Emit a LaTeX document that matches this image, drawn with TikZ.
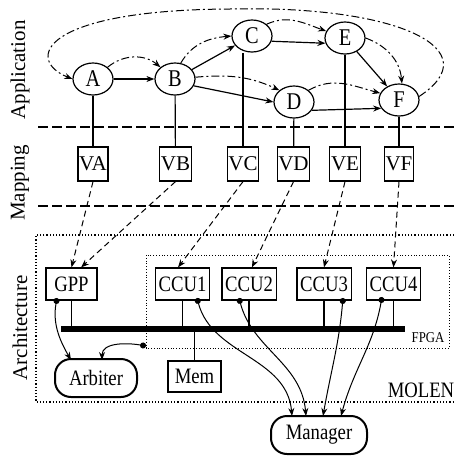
\documentclass[tikz,border=0pt]{standalone}
\usepackage{fontspec}
\setmainfont{Liberation Serif}
\newfontfamily\unitfont{Liberation Serif}[FakeStretch=0.85]
\usetikzlibrary{arrows.meta}
\usetikzlibrary{shapes.geometric}

\begin{document}
\begin{tikzpicture}[x=0.5pt,y=-0.5pt,font=\fontsize{10.5}{12}\selectfont,
    >={Stealth[length=4pt,width=3pt]},
    task/.style={ellipse,draw,line width=0.6pt,minimum width=20pt,minimum height=16pt,inner sep=0pt,fill=white,font=\unitfont\fontsize{12}{13}\selectfont},
    vbox/.style={rectangle,draw,line width=0.6pt,minimum height=17pt,inner xsep=0.6pt},
    unit/.style={rectangle,draw,line width=0.6pt,minimum height=16pt,inner xsep=1.6pt,font=\unitfont\fontsize{11}{12}\selectfont},
    ctrlunit/.style={rectangle,rounded corners=8pt,draw,line width=1pt,minimum height=19pt,font=\unitfont\fontsize{11}{12}\selectfont},
    depend/.style={->,line width=0.6pt},
    ctrl/.style={->,line width=0.5pt,dash pattern=on 4pt off 1.5pt on 1pt off 1.5pt},
    maps/.style={->,line width=0.5pt,dash pattern=on 3pt off 2pt},
    tapline/.style={{Circle[length=3pt]}->,line width=0.5pt},
    sep/.style={line width=0.8pt,dash pattern=on 5pt off 2pt},
    layer/.style={rotate=90,font=\fontsize{10.5}{12}\selectfont}]

    \useasboundingbox (0,0) rectangle (454,456);

    % layers
    \node[layer] (app)  at (20,70)  {Application};
    \node[layer] (map)  at (20,183) {Mapping};
    \node[layer] (arch) at (20,328) {Architecture};
    \draw[sep] (38,127) -- (454,127);
    \draw[sep] (38,206) -- (454,206);

    % application graph
    \node[task] (A) at (93,79)   {A};
    \node[task] (B) at (175,79)  {B};
    \node[task] (C) at (252,36)  {C};
    \node[task] (E) at (345,38)  {E};
    \node[task] (D) at (294,102) {D};
    \node[task] (F) at (399,100) {F};

    \draw[depend] (A) -- (B);
    \draw[depend] (B) -- (C);
    \draw[depend] (B.-20) -- (D.west);
    \draw[depend] (C.-15) -- (E.195);
    \draw[depend] (E) -- (F);
    \draw[depend] (D.-25) -- (F.-155);

    \draw[ctrl] (A.north east) to[out=40,in=140] (B.north west);
    \draw[ctrl] (B.70) to[out=60,in=185] (C.west);
    \draw[ctrl] (B.5) to[out=5,in=155] (D.north west);
    \draw[ctrl] (C.north east) to[out=25,in=160] (E.160);
    \draw[ctrl] (E.east) to[out=-20,in=95] (F.80);
    \draw[ctrl] (D.north east) to[out=30,in=165] (F.160);
    \coordinate (top) at (230,9);
    \draw[ctrl] (F.10) .. controls (490,50) and (400,5) .. (top)
        .. controls (40,10) and (25,60) .. (A.west);

    % mapping
    \node[vbox] (VA) at (93,164)    {VA};
    \node[vbox] (VB) at (175.5,164) {VB};
    \node[vbox] (VC) at (243,164)   {VC};
    \node[vbox] (VD) at (293.5,164) {VD};
    \node[vbox] (VE) at (345,164)   {VE};
    \node[vbox] (VF) at (399,164)   {VF};

    \draw[line width=0.6pt] (A) -- (VA);
    \draw[line width=0.6pt] (B) -- (VB);
    \draw[line width=0.6pt] (VC.north) -- (VC.north |- C.south);
    \draw[line width=0.6pt] (D) -- (VD);
    \draw[line width=0.6pt] (E) -- (VE);
    \draw[line width=0.6pt] (F) -- (VF);

    % architecture
    \draw[line width=0.6pt,densely dotted] (454,235) -- (36,235) -- (36,402) -- (454,402);
    \node[font=\unitfont\fontsize{11}{12}\selectfont] (molen) at (421,390) {MOLEN};
    \draw[line width=0.4pt,densely dotted] (146,255) rectangle (449,348);
    \node[font=\unitfont\fontsize{7.5}{8}\selectfont] (fpga) at (428,338) {FPGA};

    \node[unit,minimum width=25.5pt] (GPP) at (71.5,284) {GPP};
    \node[unit] (CCU1) at (182.5,284) {CCU1};
    \node[unit] (CCU2) at (249,284)   {CCU2};
    \node[unit] (CCU3) at (324,284)   {CCU3};
    \node[unit] (CCU4) at (393.5,284) {CCU4};
    \node[unit,minimum height=15.5pt,minimum width=26.5pt] (Mem) at (194.5,376.5) {Mem};
    \node[ctrlunit,minimum width=41pt] (Arbiter) at (96,378) {Arbiter};
    \node[ctrlunit,minimum width=48pt] (Manager) at (319,435) {Manager};

    \coordinate (busl) at (61,329);
    \coordinate (busr) at (405,329);
    \draw[line width=3pt] (busl) -- (busr);
    \draw[line width=0.6pt] (GPP.south)  -- (GPP.south |- busl);
    \draw[line width=0.6pt] (CCU1.south) -- (CCU1.south |- busl);
    \draw[line width=0.6pt] (CCU2.south) -- (CCU2.south |- busl);
    \draw[line width=0.6pt] (CCU3.south) -- (CCU3.south |- busl);
    \draw[line width=0.6pt] (CCU4.south) -- (CCU4.south |- busl);
    \draw[line width=0.6pt] (Mem.north)  -- (Mem.north |- busl);

    \draw[maps] (VA.south) -- (GPP.north);
    \draw[maps] (VB.south) -- (GPP.60);
    \draw[maps] (VC.south) -- (CCU1.105);
    \draw[maps] (VD.south) -- (CCU2.80);
    \draw[maps] (VE.south) -- (CCU3.north);
    \draw[maps] (VF.south) -- (CCU4.north);

    % control signals
    \coordinate (gppdot)  at (57,298);
    \coordinate (fpgadot) at (146,346);
    \coordinate (ccu1dot) at (197,298);
    \coordinate (ccu2dot) at (239,298);
    \coordinate (ccu3dot) at (343,298);
    \coordinate (ccu4dot) at (382,297);
    \coordinate (arb1) at (71,360);
    \coordinate (arb2) at (102,360);
    \coordinate (man1) at (292,416);
    \coordinate (man2) at (306,416);
    \coordinate (man3) at (323,416);
    \coordinate (man4) at (341,416);

    \draw[tapline] (gppdot)  to[out=-100,in=120] (arb1);
    \draw[tapline] (fpgadot) to[out=170,in=90]   (arb2);
    \draw[tapline] (ccu1dot) to[out=-75,in=95]   (man1);
    \draw[tapline] (ccu2dot) to[out=-75,in=95]   (man2);
    \draw[tapline] (ccu3dot) to[out=-95,in=80]   (man3);
    \draw[tapline] (ccu4dot) to[out=-100,in=75]  (man4);
\end{tikzpicture}
\end{document}
